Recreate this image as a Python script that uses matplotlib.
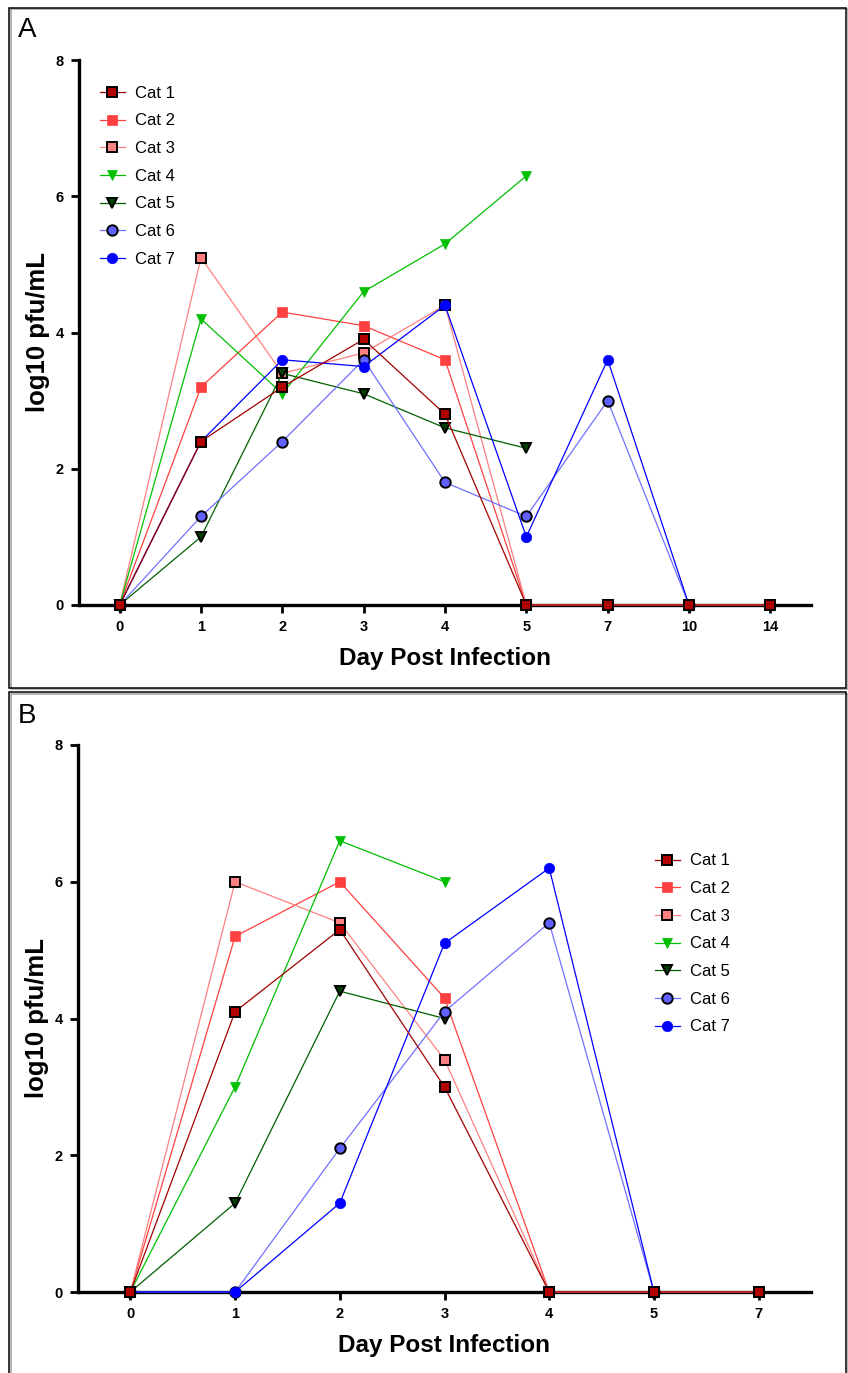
import numpy as np
import matplotlib
matplotlib.use('Agg')
import matplotlib.pyplot as plt
from matplotlib.patches import Rectangle

plt.rcParams['font.family'] = ['Liberation Sans', 'DejaVu Sans']

cats = ['Cat 1', 'Cat 2', 'Cat 3', 'Cat 4', 'Cat 5', 'Cat 6', 'Cat 7']

# panel A
days_a = ['0', '1', '2', '3', '4', '5', '7', '10', '14']
a_cat1 = [0, 2.4, 3.2, 3.9, 2.8, 0, 0, 0, 0]
a_cat2 = [0, 3.2, 4.3, 4.1, 3.6, 0, 0, 0, 0]
a_cat3 = [0, 5.1, 3.4, 3.7, 4.4, 0, 0, 0, 0]
a_cat4 = [0, 4.2, 3.1, 4.6, 5.3, 6.3]
a_cat5 = [0, 1.0, 3.4, 3.1, 2.6, 2.3]
a_cat6 = [0, 1.3, 2.4, 3.6, 1.8, 1.3, 3.0, 0]
a_cat7 = [0, 2.4, 3.6, 3.5, 4.4, 1.0, 3.6, 0]

# panel B
days_b = ['0', '1', '2', '3', '4', '5', '7']
b_cat1 = [0, 4.1, 5.3, 3.0, 0, 0, 0]
b_cat2 = [0, 5.2, 6.0, 4.3, 0, 0, 0]
b_cat3 = [0, 6.0, 5.4, 3.4, 0, 0, 0]
b_cat4 = [0, 3.0, 6.6, 6.0]
b_cat5 = [0, 1.3, 4.4, 4.0]
b_cat6 = [0, 0, 2.1, 4.1, 5.4, 0]
b_cat7 = [0, 0, 1.3, 5.1, 6.2, 0]

# (line colour, marker, face colour, edge colour)
styles = [
    ('#A00000', 's', '#B00000', 'black'),
    ('#FF4040', 's', '#FF4040', '#FF4040'),
    ('#FF8080', 's', '#FF8080', 'black'),
    ('#00C000', 'v', '#00C000', '#00C000'),
    ('#006000', 'v', '#004000', 'black'),
    ('#7070FF', 'o', '#6060FF', 'black'),
    ('#0000FF', 'o', '#0000FF', '#0000FF'),
]


def draw_panel(ax, days, series, legend_anchor):
    for i, (name, vals) in enumerate(zip(cats, series)):
        lc, mk, fc, ec = styles[i]
        x = np.arange(len(vals))
        z = 10 if i == 0 else 3 + i * 0.1
        ax.plot(x, vals, color=lc, lw=0.9, marker=mk, ms=7.5, mfc=fc, mec=ec,
                mew=1.4 if ec == 'black' else 0.5, label=name, zorder=z,
                clip_on=False)
    ax.set_xlim(-0.5, len(days) - 0.5)
    ax.set_ylim(0, 8)
    ax.set_xticks(np.arange(len(days)))
    ax.set_xticklabels(days)
    ax.set_yticks([0, 2, 4, 6, 8])
    for s in ['top', 'right']:
        ax.spines[s].set_visible(False)
    for s in ['left', 'bottom']:
        ax.spines[s].set_linewidth(2.4)
    ax.tick_params(width=2, length=6, labelsize=10.5, pad=5)
    for lab in ax.get_xticklabels() + ax.get_yticklabels():
        lab.set_fontweight('bold')
    ax.set_xlabel('Day Post Infection', fontsize=17.5, fontweight='bold', labelpad=9)
    ax.set_ylabel('log10 pfu/mL', fontsize=18.5, fontweight='bold', labelpad=4)
    ax.legend(loc='upper left', bbox_to_anchor=legend_anchor, frameon=False,
              fontsize=12, handlelength=1.5, handletextpad=0.6,
              labelspacing=0.76, borderaxespad=0)


fig = plt.figure(figsize=[8.48, 13.73], dpi=100)

# panel frames (black line with a grey edge)
for off, col in [(1.5, '#A0A0A0'), (0, 'black')]:
    fig.patches.append(Rectangle(((9 + off) / 848, 1 - (688 + off) / 1373), 837 / 848, 680 / 1373,
                                 transform=fig.transFigure, fill=False, ec=col, lw=1.1))
    fig.patches.append(Rectangle(((9 + off) / 848, -0.01), 837 / 848, (1373 - 692 - off) / 1373 + 0.01,
                                 transform=fig.transFigure, fill=False, ec=col, lw=1.1))

ax1 = fig.add_axes([79 / 848, 1 - 605 / 1373, 732 / 848, 545 / 1373])
draw_panel(ax1, days_a, [a_cat1, a_cat2, a_cat3, a_cat4, a_cat5, a_cat6, a_cat7],
           (0.019, 0.965))
fig.text(18 / 848, 1 - 30 / 1373, 'A', fontsize=20, va='center')

ax2 = fig.add_axes([78 / 848, 1 - 1292 / 1373, 733 / 848, 547 / 1373])
draw_panel(ax2, days_b, [b_cat1, b_cat2, b_cat3, b_cat4, b_cat5, b_cat6, b_cat7],
           (0.778, 0.814))
fig.text(18 / 848, 1 - 716 / 1373, 'B', fontsize=20, va='center')

plt.savefig('out.png', dpi=100)
